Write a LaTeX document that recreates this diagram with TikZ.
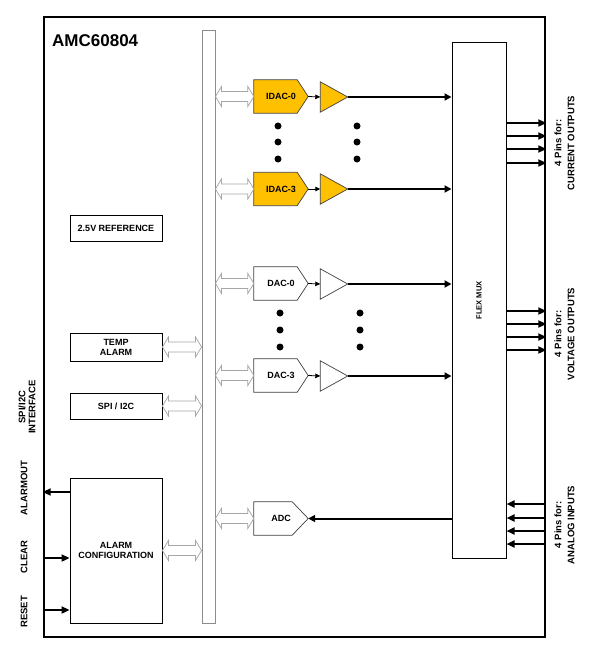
\documentclass[tikz,border=0pt]{standalone}
\usepackage{fontspec}
\setmainfont{Liberation Sans}
\usetikzlibrary{arrows.meta,calc,backgrounds}
\definecolor{amber}{HTML}{FFC000}
\definecolor{busgray}{HTML}{8C8C8C}
\definecolor{arrgray}{HTML}{A6A6A6}
\definecolor{dacline}{HTML}{404040}
\newcommand\pentshape[3]{\draw[#3] (#1.north west) -- ([xshift=-#2]#1.north east) -- (#1.east) -- ([xshift=-#2]#1.south east) -- (#1.south west) -- cycle;}
\newcommand\ampshape[2]{\draw[#2] (#1.north west) -- (#1.east) -- (#1.south west) -- cycle;}
\newcommand\biarrow[2]{\draw[hollow] let \p1=(#1), \p2=(#2) in (\x1,\y1) -- ++(6pt,10pt) -- ++(0,-5pt) -- (\x2-6pt,\y1+5pt) -- ++(0,5pt) -- (\x2,\y1) -- ++(-6pt,-10pt) -- ++(0,5pt) -- (\x1+6pt,\y1-5pt) -- ++(0,-5pt) -- cycle;}
\begin{document}
\begin{tikzpicture}[x=1pt,y=-1pt,
  txt/.style={font=\fontsize{9}{10}\selectfont\bfseries, align=center, inner sep=0pt},
  side/.style={font=\fontsize{9.5}{13}\selectfont\bfseries, align=center, inner sep=0pt, rotate=90},
  leftlbl/.style={font=\fontsize{9.5}{10}\selectfont\bfseries, align=center, inner sep=0pt, rotate=90},
  blk/.style={draw, line width=0.9pt, minimum width=92, inner sep=0pt, txt},
  convbox/.style={minimum width=54, minimum height=33, inner sep=0pt, txt},
  ampbox/.style={minimum width=27, minimum height=30, inner sep=0pt},
  idacfill/.style={fill=amber, draw=dacline, line width=0.7pt},
  dacfill/.style={fill=white, draw=dacline, line width=0.7pt},
  hollow/.style={draw=arrgray, fill=white, line width=0.7pt, line join=miter},
  small/.style={line width=0.8pt, -{Triangle[length=5pt,width=4.5pt]}},
  sig/.style={line width=2pt, -{Triangle[length=7pt,width=7pt]}},
  pin/.style={line width=2.2pt, -{Triangle[length=8pt,width=7pt]}},
  dot/.style={fill=black}
]
\useasboundingbox (0,0) rectangle (592,650);

% outer chip
\node[draw, line width=2.6pt, minimum width=501, minimum height=620, inner sep=0pt] (chip) at (294.5,327) {};
\node[anchor=west, font=\fontsize{17}{19}\selectfont\bfseries, inner sep=0pt] (title) at (52,41) {AMC60804};

% bus
\node[draw=busgray, line width=0.9pt, minimum width=13, minimum height=593, inner sep=0pt] (bus) at (208.5,326.5) {};

% flex mux
\node[draw, line width=1pt, minimum width=54, minimum height=515, inner sep=0pt] (mux) at (479,300.5) {};
\node[rotate=90, font=\fontsize{7.5}{8}\selectfont\bfseries, inner sep=0pt] (muxlbl) at (mux.center) {FLEX MUX};

% left blocks
\node[blk, minimum height=26] (ref) at (116,228) {2.5V REFERENCE};
\node[blk, minimum height=28] (temp) at (116,347) {TEMP\\ALARM};
\node[blk, minimum height=26] (spi) at (116,406) {SPI / I2C};
\node[blk, minimum height=145] (alarm) at (116,550.5) {ALARM\\CONFIGURATION};

% converters
\node[convbox] (idac0) at (281,96.5) {IDAC-0};
\node[convbox] (idac3) at (281,189) {IDAC-3};
\node[convbox] (dac0) at (281,283.5) {DAC-0};
\node[convbox] (dac3) at (281,375.5) {DAC-3};
\node[convbox] (adc) at (281,518.5) {ADC};
\begin{scope}[on background layer]
  \pentshape{idac0}{11pt}{idacfill}
  \pentshape{idac3}{11pt}{idacfill}
  \pentshape{dac0}{11pt}{dacfill}
  \pentshape{dac3}{11pt}{dacfill}
  \pentshape{adc}{16pt}{dacfill}
\end{scope}

% amplifiers
\node[ampbox] (a0) at (334,97) {};
\node[ampbox] (a3) at (334,189) {};
\node[ampbox] (b0) at (334,284) {};
\node[ampbox] (b3) at (334,376) {};
\ampshape{a0}{idacfill}
\ampshape{a3}{idacfill}
\ampshape{b0}{dacfill}
\ampshape{b3}{dacfill}

% converter -> amp
\draw[small] (idac0.east) -- (a0.west);
\draw[small] (idac3.east) -- (a3.west);
\draw[small] (dac0.east) -- (b0.west);
\draw[small] (dac3.east) -- (b3.west);

% amp -> mux
\draw[sig] (a0.east) -- (a0.east -| mux.west);
\draw[sig] (a3.east) -- (a3.east -| mux.west);
\draw[sig] (b0.east) -- (b0.east -| mux.west);
\draw[sig] (b3.east) -- (b3.east -| mux.west);
\draw[sig] (adc.east -| mux.west) -- (adc.east);

% dots
\foreach \y in {126,142,159} {\fill[dot] (278,\y) circle (3.5); \fill[dot] (357,\y) circle (3.5);}
\foreach \y in {313,330,347} {\fill[dot] (280,\y) circle (3.5); \fill[dot] (360,\y) circle (3.5);}

% bus double arrows
\biarrow{bus.east |- idac0.west}{idac0.west}
\biarrow{bus.east |- idac3.west}{idac3.west}
\biarrow{bus.east |- dac0.west}{dac0.west}
\biarrow{bus.east |- dac3.west}{dac3.west}
\biarrow{bus.east |- adc.west}{adc.west}
\biarrow{temp.east}{bus.west |- temp.east}
\biarrow{spi.east}{bus.west |- spi.east}
\biarrow{alarm.east}{bus.west |- alarm.east}

% pins
\foreach \y in {123,136,149,163} {\draw[pin] (mux.east |- 0,\y) -- (chip.east |- 0,\y);}
\foreach \y in {311,324,337,350} {\draw[pin] (mux.east |- 0,\y) -- (chip.east |- 0,\y);}
\foreach \y in {504,518,531,544} {\draw[pin] (chip.east |- 0,\y) -- (mux.east |- 0,\y);}

\node[side] (lcur) at (564.5,143) {4 Pins for:\\CURRENT OUTPUTS};
\node[side] (lvol) at (564.5,334) {4 Pins for:\\VOLTAGE OUTPUTS};
\node[side] (lana) at (564.5,525) {4 Pins for:\\ANALOG INPUTS};

% left pins
\coordinate (aoy) at (0,492);
\coordinate (cly) at (0,558);
\coordinate (rsy) at (0,610);
\draw[pin] (alarm.west |- aoy) -- (chip.west |- aoy);
\draw[pin] (chip.west |- cly) -- (alarm.west |- cly);
\draw[pin] (chip.west |- rsy) -- (alarm.west |- rsy);

\node[leftlbl] (lspi) at (27,407) {SPI/I2C\\INTERFACE};
\node[leftlbl] (lao) at (24,488) {ALARMOUT};
\node[leftlbl] (lcl) at (24,557) {CLEAR};
\node[leftlbl] (lrs) at (24,612) {RESET};
\end{tikzpicture}
\end{document}
